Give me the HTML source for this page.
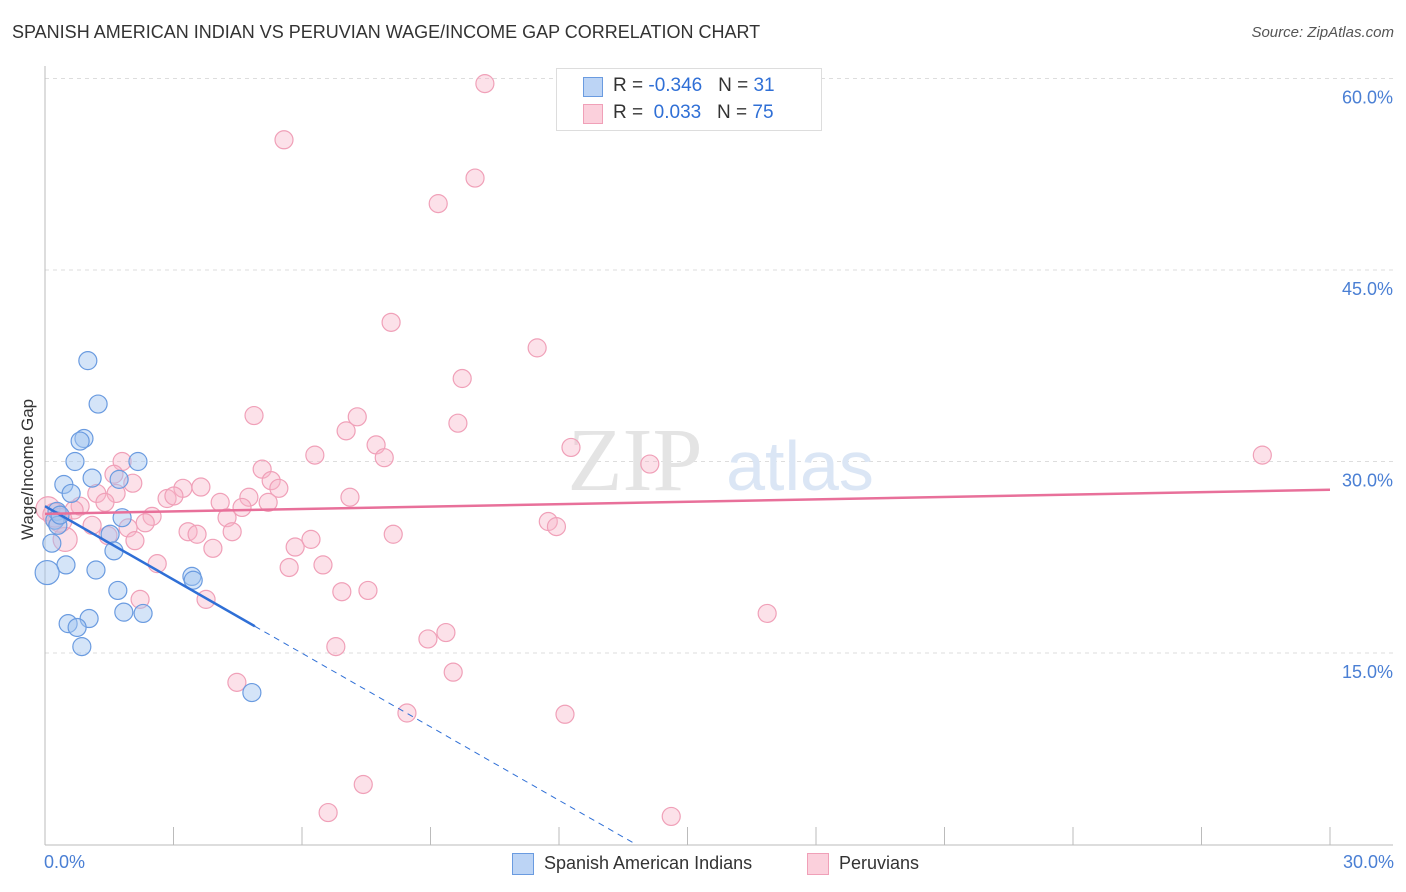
<!DOCTYPE html>
<html><head><meta charset="utf-8"><style>
body{margin:0;background:#fff;font-family:"Liberation Sans",sans-serif;}
#wrap{position:relative;width:1406px;height:892px;overflow:hidden}
.t{position:absolute;white-space:nowrap}
</style></head><body>
<div id="wrap">
<div class="t" style="left:12px;top:22px;font-size:18px;color:#333">SPANISH AMERICAN INDIAN VS PERUVIAN WAGE/INCOME GAP CORRELATION CHART</div>
<div class="t" style="right:12px;top:24px;font-size:15px;color:#555;font-style:italic">Source: ZipAtlas.com</div>
<svg id="svg" width="1406" height="892" style="position:absolute;left:0;top:0"></svg>
</div>
<script>
const blueX=[1.00,1.24,0.91,0.82,0.70,2.17,1.10,1.73,0.44,0.61,0.28,1.80,0.23,0.30,1.52,0.16,1.61,0.49,1.19,0.05,3.43,3.46,1.70,1.84,2.29,0.54,1.03,0.75,0.86,4.83,0.35];
const blueY=[37.9,34.5,31.8,31.6,30.0,30.0,28.7,28.6,28.2,27.5,26.1,25.6,25.4,25.0,24.3,23.6,23.0,21.9,21.5,21.3,21.0,20.7,19.9,18.2,18.1,17.3,17.7,17.0,15.5,11.9,25.8];
const pinkX=[10.27,5.58,10.04,9.18,8.08,11.49,9.74,4.88,7.29,7.03,9.64,7.73,12.28,7.92,6.30,1.80,14.12,28.42,5.07,2.05,3.22,3.64,5.28,5.46,1.21,1.66,2.85,3.01,7.12,4.76,4.09,1.40,0.82,5.21,4.60,2.50,4.25,0.68,0.07,2.34,1.94,1.10,11.75,11.94,3.34,3.55,4.37,8.13,6.21,5.84,0.47,3.92,5.70,6.49,2.62,6.93,7.54,3.76,2.22,16.86,9.36,8.94,6.79,9.53,4.48,8.45,12.14,7.43,6.61,14.62,1.47,2.10,0.35,0.23,1.61];
const pinkY=[59.6,55.2,52.2,50.2,40.9,38.9,36.5,33.6,33.5,32.4,33.0,31.3,31.1,30.3,30.5,30.0,29.8,30.5,29.4,28.3,27.9,28.0,28.5,27.9,27.5,27.5,27.1,27.3,27.2,27.2,26.8,26.8,26.5,26.8,26.4,25.7,25.6,26.2,26.3,25.2,24.8,25.0,25.3,24.9,24.5,24.3,24.5,24.3,23.9,23.3,23.9,23.2,21.7,21.9,22.0,19.8,19.9,19.2,19.2,18.1,16.6,16.1,15.5,13.5,12.7,10.3,10.2,4.7,2.5,2.2,24.2,23.8,25.4,25.8,29.0];
const yTicks=[15,30,45,60];
const yTickLabels=["15.0%","30.0%","45.0%","60.0%"];
const blueTrend=[26.5,-1.92];
const pinkTrend=[25.9,0.063];
const X=v=>45+v/30*1285, Y=v=>844.5-v/15*191.5;
const svg=document.getElementById('svg');const NS='http://www.w3.org/2000/svg';
function mk(t,a,p){const e=document.createElementNS(NS,t);for(const k in a)e.setAttribute(k,a[k]);(p||svg).appendChild(e);return e;}
yTicks.forEach((t,i)=>{
 const g=mk('line',{x1:45,x2:1393,y1:Y(t),y2:Y(t),stroke:'#ddd','stroke-dasharray':'4,4'});
 
 
 const l=mk('text',{x:1393,y:Y(t)+25,'text-anchor':'end','font-size':18,fill:'#4a7fd4'});l.textContent=yTickLabels[i];
 
 
});
const ax=mk('line',{x1:45,x2:45,y1:66,y2:845,stroke:'#bbb'});
const bx=mk('line',{x1:45,x2:1393,y1:845,y2:845,stroke:'#bbb'});
for(let i=0;i<=10;i++){const tk=mk('line',{x1:X(i*3),x2:X(i*3),y1:827,y2:845,stroke:'#bbb'});}
const w1=mk('text',{x:635,y:490,'text-anchor':'middle','font-size':90,fill:'#e4e4e4','font-family':'Liberation Serif'});w1.textContent='ZIP';
const w2=mk('text',{x:800,y:490,'text-anchor':'middle','font-size':70,fill:'#dbe6f5'});w2.textContent='atlas';
pinkX.forEach((x,i)=>{const c=mk('circle',{cx:X(x),cy:Y(pinkY[i]),r:(x<0.5?12:9),fill:'rgba(248,180,200,0.4)',stroke:'#f0a0b8','stroke-width':1.2});
 
 });
blueX.forEach((x,i)=>{const c=mk('circle',{cx:X(x),cy:Y(blueY[i]),r:(x<0.1?12:9),fill:'rgba(160,195,240,0.45)',stroke:'#6a9be0','stroke-width':1.2});
 
 });
const bEnd=4.9, bZero=-blueTrend[0]/blueTrend[1];
const bl=mk('line',{x1:X(0),y1:Y(blueTrend[0]),x2:X(bEnd),y2:Y(blueTrend[0]+blueTrend[1]*bEnd),stroke:'#2f6fd6','stroke-width':2.5});

const bd=mk('line',{x1:X(bEnd),y1:Y(blueTrend[0]+blueTrend[1]*bEnd),x2:X(bZero),y2:Y(0),stroke:'#2f6fd6','stroke-width':1,'stroke-dasharray':'6,5'});

const pl=mk('line',{x1:X(0),y1:Y(pinkTrend[0]),x2:X(30),y2:Y(pinkTrend[0]+pinkTrend[1]*30),stroke:'#e8709a','stroke-width':2.5});

</script>
<div class="t" style="left:18px;top:540px;font-size:17px;color:#333;transform:rotate(-90deg);transform-origin:0 0">Wage/Income Gap</div>
<div class="t" style="left:44px;top:852px;font-size:18px;color:#4a7fd4">0.0%</div>
<div class="t" style="right:12px;top:852px;font-size:18px;color:#4a7fd4">30.0%</div>
<div class="t" style="left:556px;top:68px;width:264px;height:61px;border:1px solid #ddd;background:#fff">
 <div style="position:absolute;left:26px;top:8px;width:18px;height:18px;background:#bcd4f5;border:1px solid #6a9be0"></div>
 <div class="t" style="left:56px;top:6px;font-size:19px;color:#333">R = <span style="color:#2f6fd6">-0.346</span>&nbsp;&nbsp;&nbsp;N = <span style="color:#2f6fd6">31</span></div>
 <div style="position:absolute;left:26px;top:35px;width:18px;height:18px;background:#fbd0dc;border:1px solid #f0a0b8"></div>
 <div class="t" style="left:56px;top:33px;font-size:19px;color:#333">R = &nbsp;<span style="color:#2f6fd6">0.033</span>&nbsp;&nbsp;&nbsp;N = <span style="color:#2f6fd6">75</span></div>
</div>
<div style="position:absolute;left:512px;top:853px;width:20px;height:20px;background:#bcd4f5;border:1px solid #6a9be0"></div>
<div class="t" style="left:544px;top:853px;font-size:18px;color:#333">Spanish American Indians</div>
<div style="position:absolute;left:807px;top:853px;width:20px;height:20px;background:#fbd0dc;border:1px solid #f0a0b8"></div>
<div class="t" style="left:839px;top:853px;font-size:18px;color:#333">Peruvians</div>
</body></html>
